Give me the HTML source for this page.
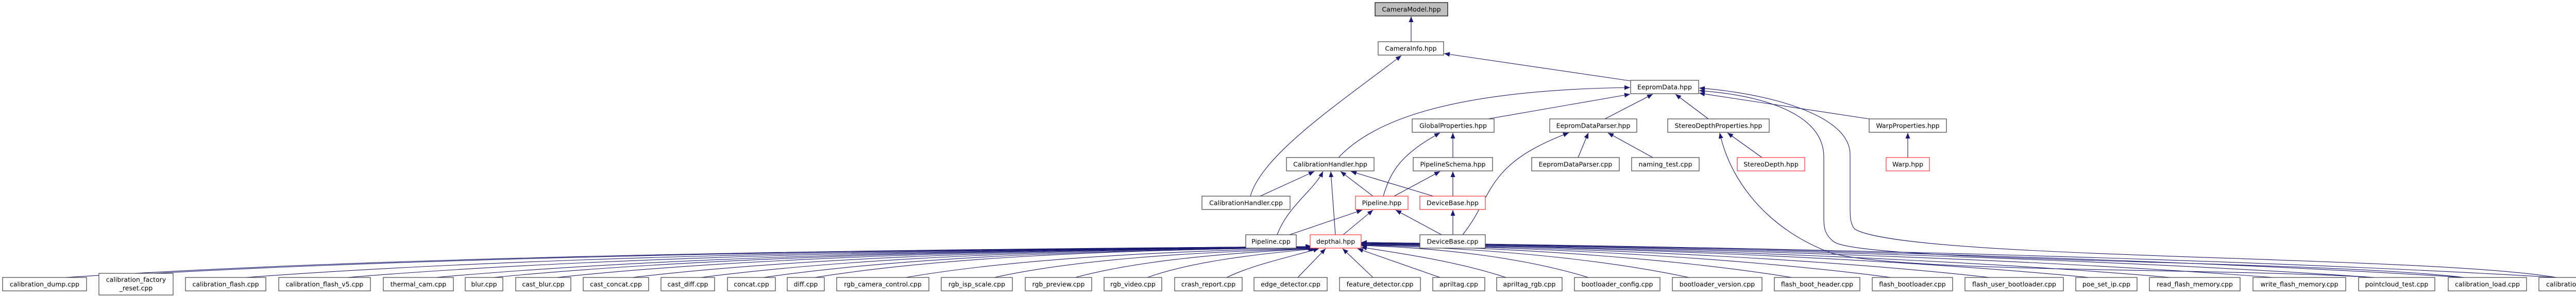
<!DOCTYPE html>
<html><head><meta charset="utf-8"><style>
html,body{margin:0;padding:0;background:#fff;}
svg{display:block;}
text{font-family:"DejaVu Sans","Liberation Sans",sans-serif;font-size:12.5px;fill:#000;text-anchor:middle;}
.b{fill:#fff;stroke:#404040;stroke-width:1.2;}
.r{fill:#fff;stroke:#ff3030;stroke-width:1.2;}
.g{fill:#bfbfbf;stroke:#000;stroke-width:1.2;}
.e{fill:none;stroke:#191970;stroke-width:1.1;marker-end:url(#a);}
</style></head><body>
<svg width="5102" height="575" viewBox="0 0 5102 575" xmlns="http://www.w3.org/2000/svg">
<defs><marker id="a" markerUnits="userSpaceOnUse" markerWidth="12" markerHeight="10" refX="11" refY="4.5" orient="auto"><path d="M0,0 L11,4.5 L0,9 z" fill="#191970"/></marker></defs>

<!-- upper edges -->
<path class="e" d="M2739,81 L2739,32"/>
<path class="e" d="M3164,157 L2803,104"/>
<path class="e" d="M2427,381 C2450,300 2600,200 2720,108"/>
<path class="e" d="M2598,306 C2660,240 2800,175 3164,170"/>
<path class="e" d="M2888,231 L3164,183"/>
<path class="e" d="M3115,231 L3208,183"/>
<path class="e" d="M3316,231 L3252,183"/>
<path class="e" d="M3628,231 L3298,181"/>
<path class="e" d="M2820,306 L2820,258"/>
<path class="e" d="M2685,381 C2700,330 2720,300 2795,258"/>
<path class="e" d="M2446,381 L2551,333"/>
<path class="e" d="M2479,456 C2500,400 2550,370 2568,333"/>
<path class="e" d="M2592,456 L2583,333"/>
<path class="e" d="M2665,381 L2602,333"/>
<path class="e" d="M2782,381 L2622,333"/>
<path class="e" d="M2706,381 L2795,333"/>
<path class="e" d="M2820,381 L2820,333"/>
<path class="e" d="M3063,306 L3083,258"/>
<path class="e" d="M3208,306 L3121,258"/>
<path class="e" d="M2839,456 C2900,380 2880,320 3045,258"/>
<path class="e" d="M3420,306 L3353,258"/>
<path class="e" d="M3703,306 L3703,258"/>
<path class="e" d="M2503,456 L2644,408"/>
<path class="e" d="M2607,456 L2665,408"/>
<path class="e" d="M2798,456 L2709,408"/>
<path class="e" d="M2820,456 L2820,408"/>
<path class="e" d="M4962,539 C4700,495 3700,505 3600,445 C3591,435 3591,420 3591,400 L3591,300 C3591,220 3420,180 3298,171"/>
<path class="e" d="M4783,539 C4500,505 3620,510 3560,470 C3540,455 3540,440 3540,418 L3540,305 C3540,220 3420,185 3298,176"/>
<path class="e" d="M4608,539 C4300,520 3700,530 3556,492 C3440,450 3360,360 3338,258"/>

<!-- edges to depthai -->
<path class="e" d="M127,539 C732,500 1580,485 2545,479"/>
<path class="e" d="M300,531 C862,500 1649,485 2545,479"/>
<path class="e" d="M477,539 C995,500 1720,485 2546,479"/>
<path class="e" d="M674,539 C1143,500 1798,485 2546,479"/>
<path class="e" d="M846,539 C1272,500 1867,485 2547,479"/>
<path class="e" d="M958,539 C1356,500 1912,485 2547,480"/>
<path class="e" d="M1081,539 C1448,500 1961,485 2547,480"/>
<path class="e" d="M1227,539 C1557,500 2020,485 2548,480"/>
<path class="e" d="M1361,539 C1658,500 2073,485 2548,480"/>
<path class="e" d="M1482,539 C1749,500 2122,485 2548,481"/>
<path class="e" d="M1582,539 C1824,500 2162,485 2549,481"/>
<path class="e" d="M1758,539 C1956,505 2232,488 2550,482"/>
<path class="e" d="M1930,539 C2084,505 2301,490 2551,483"/>
<path class="e" d="M2087,539 C2202,508 2364,492 2553,483"/>
<path class="e" d="M2227,539 C2308,510 2422,495 2556,483"/>
<path class="e" d="M2381,539 C2430,515 2500,500 2560,483"/>
<path class="e" d="M2519,539 L2573,483"/>
<path class="e" d="M2665,539 L2606,483"/>
<path class="e" d="M2795,539 L2635,483"/>
<path class="e" d="M2923,539 C2820,505 2700,490 2642,480"/>
<path class="e" d="M3083,539 C2973,505 2818,482 2642,477"/>
<path class="e" d="M3278,539 C3119,505 2896,482 2642,476"/>
<path class="e" d="M3478,539 C3269,505 2976,482 2642,475"/>
<path class="e" d="M3670,539 C3413,505 3053,482 2642,474"/>
<path class="e" d="M3862,539 C3557,505 3129,482 2642,474"/>
<path class="e" d="M4055,539 C3702,505 3207,482 2642,473"/>
<path class="e" d="M4213,539 C3820,505 3270,482 2642,473"/>
<path class="e" d="M4412,539 C3969,505 3349,482 2642,472"/>
<path class="e" d="M4608,539 C4116,505 3428,482 2642,472"/>
<path class="e" d="M4783,539 C4248,505 3498,482 2642,471"/>
<path class="e" d="M4962,539 C4382,505 3569,482 2642,471"/>

<!-- nodes -->
<rect class="g" x="2669" y="5" width="141" height="26"/><text x="2739.5" y="22.5">CameraModel.hpp</text>
<rect class="b" x="2675" y="81" width="127" height="26"/><text x="2738.5" y="98.5">CameraInfo.hpp</text>
<rect class="b" x="3165" y="156" width="132" height="26"/><text x="3231" y="173.5">EepromData.hpp</text>
<rect class="b" x="2741" y="231" width="159" height="26"/><text x="2820.5" y="248.5">GlobalProperties.hpp</text>
<rect class="b" x="3008" y="231" width="169" height="26"/><text x="3092.5" y="248.5">EepromDataParser.hpp</text>
<rect class="b" x="3237" y="231" width="197" height="26"/><text x="3335.5" y="248.5">StereoDepthProperties.hpp</text>
<rect class="b" x="3628" y="231" width="150" height="26"/><text x="3703" y="248.5">WarpProperties.hpp</text>
<rect class="b" x="2497" y="306" width="170" height="26"/><text x="2582" y="323.5">CalibrationHandler.hpp</text>
<rect class="b" x="2743" y="306" width="154" height="26"/><text x="2820" y="323.5">PipelineSchema.hpp</text>
<rect class="b" x="2973" y="306" width="170" height="26"/><text x="3058" y="323.5">EepromDataParser.cpp</text>
<rect class="b" x="3167" y="306" width="131" height="26"/><text x="3232.5" y="323.5">naming_test.cpp</text>
<rect class="r" x="3372" y="306" width="131" height="26"/><text x="3437.5" y="323.5">StereoDepth.hpp</text>
<rect class="r" x="3661" y="306" width="84" height="26"/><text x="3703" y="323.5">Warp.hpp</text>
<rect class="b" x="2333" y="381" width="171" height="26"/><text x="2418.5" y="398.5">CalibrationHandler.cpp</text>
<rect class="r" x="2631" y="381" width="102" height="26"/><text x="2682" y="398.5">Pipeline.hpp</text>
<rect class="r" x="2756" y="381" width="127" height="26"/><text x="2819.5" y="398.5">DeviceBase.hpp</text>
<rect class="b" x="2418" y="456" width="98" height="26"/><text x="2467" y="473.5">Pipeline.cpp</text>
<rect class="r" x="2543" y="456" width="99" height="26"/><text x="2592.5" y="473.5">depthai.hpp</text>
<rect class="b" x="2756" y="456" width="127" height="26"/><text x="2819.5" y="473.5">DeviceBase.cpp</text>

<rect class="b" x="5" y="539" width="163" height="26"/><text x="86.5" y="556.5">calibration_dump.cpp</text>
<rect class="b" x="192" y="531" width="144" height="42"/><text x="264" y="547.5">calibration_factory</text><text x="264" y="564">_reset.cpp</text>
<rect class="b" x="360" y="539" width="156" height="26"/><text x="438" y="556.5">calibration_flash.cpp</text>
<rect class="b" x="541" y="539" width="178" height="26"/><text x="630" y="556.5">calibration_flash_v5.cpp</text>
<rect class="b" x="744" y="539" width="136" height="26"/><text x="812" y="556.5">thermal_cam.cpp</text>
<rect class="b" x="903" y="539" width="73" height="26"/><text x="939.5" y="556.5">blur.cpp</text>
<rect class="b" x="1001" y="539" width="107" height="26"/><text x="1054.5" y="556.5">cast_blur.cpp</text>
<rect class="b" x="1132" y="539" width="127" height="26"/><text x="1195.5" y="556.5">cast_concat.cpp</text>
<rect class="b" x="1283" y="539" width="104" height="26"/><text x="1335" y="556.5">cast_diff.cpp</text>
<rect class="b" x="1412" y="539" width="93" height="26"/><text x="1458.5" y="556.5">concat.cpp</text>
<rect class="b" x="1528" y="539" width="72" height="26"/><text x="1564" y="556.5">diff.cpp</text>
<rect class="b" x="1624" y="539" width="179" height="26"/><text x="1713.5" y="556.5">rgb_camera_control.cpp</text>
<rect class="b" x="1827" y="539" width="138" height="26"/><text x="1896" y="556.5">rgb_isp_scale.cpp</text>
<rect class="b" x="1990" y="539" width="129" height="26"/><text x="2054.5" y="556.5">rgb_preview.cpp</text>
<rect class="b" x="2143" y="539" width="112" height="26"/><text x="2199" y="556.5">rgb_video.cpp</text>
<rect class="b" x="2280" y="539" width="131" height="26"/><text x="2345.5" y="556.5">crash_report.cpp</text>
<rect class="b" x="2434" y="539" width="142" height="26"/><text x="2505" y="556.5">edge_detector.cpp</text>
<rect class="b" x="2600" y="539" width="157" height="26"/><text x="2678.5" y="556.5">feature_detector.cpp</text>
<rect class="b" x="2781" y="539" width="101" height="26"/><text x="2831.5" y="556.5">apriltag.cpp</text>
<rect class="b" x="2905" y="539" width="127" height="26"/><text x="2968.5" y="556.5">apriltag_rgb.cpp</text>
<rect class="b" x="3056" y="539" width="166" height="26"/><text x="3139" y="556.5">bootloader_config.cpp</text>
<rect class="b" x="3246" y="539" width="174" height="26"/><text x="3333" y="556.5">bootloader_version.cpp</text>
<rect class="b" x="3444" y="539" width="166" height="26"/><text x="3527" y="556.5">flash_boot_header.cpp</text>
<rect class="b" x="3634" y="539" width="156" height="26"/><text x="3712" y="556.5">flash_bootloader.cpp</text>
<rect class="b" x="3814" y="539" width="191" height="26"/><text x="3909.5" y="556.5">flash_user_bootloader.cpp</text>
<rect class="b" x="4029" y="539" width="119" height="26"/><text x="4088.5" y="556.5">poe_set_ip.cpp</text>
<rect class="b" x="4172" y="539" width="176" height="26"/><text x="4260" y="556.5">read_flash_memory.cpp</text>
<rect class="b" x="4373" y="539" width="180" height="26"/><text x="4463" y="556.5">write_flash_memory.cpp</text>
<rect class="b" x="4578" y="539" width="148" height="26"/><text x="4652" y="556.5">pointcloud_test.cpp</text>
<rect class="b" x="4752" y="539" width="152" height="26"/><text x="4828" y="556.5">calibration_load.cpp</text>
<rect class="b" x="4928" y="539" width="167" height="26"/><text x="5011.5" y="556.5">calibration_reader.cpp</text>
</svg>
</body></html>
